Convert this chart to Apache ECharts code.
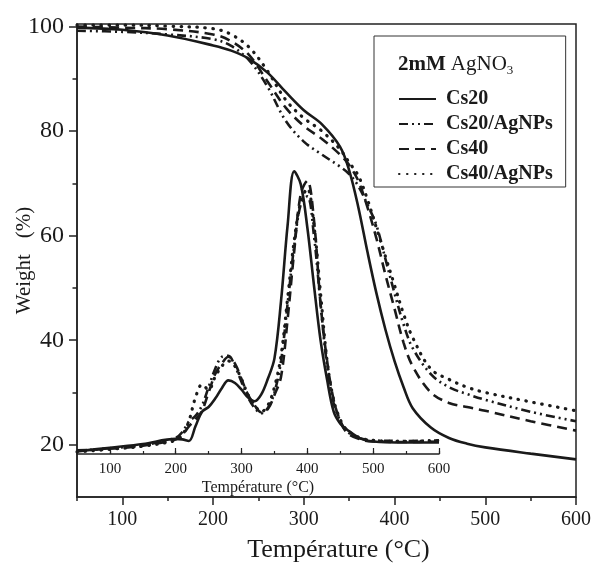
<!DOCTYPE html>
<html>
<head>
<meta charset="utf-8">
<script src="https://cdn.jsdelivr.net/npm/echarts@6/dist/echarts.min.js"></script>
<style>
html,body{margin:0;padding:0;background:#fff;}
#main{width:592px;height:568px;}
</style>
</head>
<body>
<div id="main"></div>
<script>
// TGA curves (main plot) - temperature in °C, weight in %
var tgaTemps = [50,100,150,200,220,240,260,280,300,320,340,350,360,370,380,390,400,410,420,440,460,480,500,550,600];
var tgaCs20      = [99.8,99.4,98.3,96.4,95.4,93.8,91.2,87.5,84,81.3,77,72.5,65.5,57,49,42,36,31,27,23.3,21.3,20.2,19.5,18.3,17.2];
var tgaCs20AgNPs = [99.2,99.0,98.5,97.6,96.3,93.5,88.5,82,78,75.5,73.2,71.8,69.5,66,62,55.5,49,43,38.5,33.5,31,29.7,28.6,26.3,24.5];
var tgaCs40      = [100,99.8,99.5,98.5,97.2,94.5,89.5,84.5,81,78.5,75.5,73.5,70.5,65.5,59.5,52.5,46,39.5,35,30,28,27.2,26.5,24.5,22.7];
var tgaCs40AgNPs = [100.3,100.3,100.1,99.6,98.5,96,91.5,86,82.5,80,76.5,74,71.5,67,61.5,56,50.5,45,40.5,34.5,32.5,31,30,28.2,26.5];

// DTG curves (inset) - drawn in the same units as the main weight axis
var dtgTemps = [50,100,150,200,210,220,230,240,250,260,270,280,290,300,310,320,330,340,350,360,370,380,390,400,410,420,430,440,450,460,480,500,550,600];
var dtgCs20      = [18.7,19.4,20.1,21.1,21.0,20.7,23.5,26.3,27.2,28.8,30.8,32.3,31.8,30.5,29,28.3,29.6,32.6,36.5,47.5,62,72.3,69.8,61.5,50.5,40,32.4,26.3,24,22.9,21.2,20.6,20.4,20.4];
var dtgCs20AgNPs = [18.8,19.3,19.9,21.3,22.4,24.4,25.5,27.5,31,34.5,36.8,37,35,32,29,27,26,27,30,36,47,58,66,67.5,60,47,35,28,24.5,22.5,21.2,20.8,20.7,20.8];
var dtgCs40      = [18.9,19.2,19.8,21,21.8,23.5,24.8,26.5,30,33.5,35.5,36.8,35.5,32.5,29.5,27.5,26.2,26.8,29.5,33,44,57,68,70.5,63,47,36,28.5,24.5,22.3,21,20.6,20.5,20.6];
var dtgCs40AgNPs = [18.6,19.1,19.7,20.8,21.8,24.5,29,31.5,30.5,33,35,36,35,32.5,29.5,27.5,26.3,27.5,31,37,48,59,66.5,69,62,49,36,28.5,24.8,22.8,21.3,20.8,20.6,20.8];

var names = ['Cs20','Cs20/AgNPs','Cs40','Cs40/AgNPs'];
var mainMajorX = [100,200,300,400,500,600];
var mainMajorY = [20,40,60,80,100];
var mainMinorY = [30,50,70,90];

var ink = '#1a1a1a';
var serif = 'Liberation Serif';
// line patterns: solid, dash-dot-dot, dash, dot
var styles = [
    {type:'solid', width:2.6, cap:'butt'},
    {type:[9,4,2,4,2,4], width:2.6, cap:'butt'},
    {type:[10,6], width:2.6, cap:'butt'},
    {type:[0.5,7.5], width:3.2, cap:'round'}
];

function pairs(xs, ys){
    var out = [];
    for(var i=0;i<xs.length;i++){ out.push([xs[i], ys[i]]); }
    return out;
}

var tgaSets = [tgaCs20,tgaCs20AgNPs,tgaCs40,tgaCs40AgNPs];
var dtgSets = [dtgCs20,dtgCs20AgNPs,dtgCs40,dtgCs40AgNPs];
var series = [];
tgaSets.forEach(function(d,i){
    series.push({
        name:names[i], type:'line', xAxisIndex:0, yAxisIndex:0,
        symbol:'none', smooth:0.35, data:pairs(tgaTemps,d),
        lineStyle:{color:ink, width:styles[i].width, type:styles[i].type, cap:styles[i].cap},
        itemStyle:{color:ink}
    });
});
dtgSets.forEach(function(d,i){
    series.push({
        name:names[i], type:'line', xAxisIndex:2, yAxisIndex:2,
        symbol:'none', smooth:0.35, data:pairs(dtgTemps,d),
        lineStyle:{color:ink, width:styles[i].width, type:styles[i].type, cap:styles[i].cap},
        itemStyle:{color:ink}
    });
});

var chart = echarts.init(document.getElementById('main'));
var option = {
    animation:false,
    backgroundColor:'#fff',
    title:{
        text:'{b|2mM} {r|AgNO}{s|3}',
        left:393, top:47,
        textStyle:{
            rich:{
                b:{fontFamily:serif, fontWeight:'bold', fontSize:21, color:ink},
                r:{fontFamily:serif, fontWeight:'normal', fontSize:21, color:ink},
                s:{fontFamily:serif, fontWeight:'normal', fontSize:13, color:ink, padding:[12,0,0,0]}
            }
        }
    },
    legend:{
        data:names,
        orient:'vertical',
        left:374, top:36,
        padding:[53,13,3,24],
        borderColor:'#333', borderWidth:1,
        itemWidth:37, itemHeight:16, itemGap:5,
        selectedMode:false,
        itemStyle:{color:'rgba(0,0,0,0)', borderWidth:0, opacity:0},
        textStyle:{fontFamily:serif, fontWeight:'bold', fontSize:20, color:ink, lineHeight:16, padding:[0,0,0,5]}
    },
    grid:[
        {left:77, right:16, top:24, bottom:71, outerBoundsMode:'none', show:true, borderColor:'#222', borderWidth:1.5},
        {left:77, width:362, top:24, bottom:114, outerBoundsMode:'none'}
    ],
    xAxis:[
        {
            gridIndex:0, type:'value', min:50, max:600,
            name:'Température (°C)', nameLocation:'middle', nameGap:40, nameMoveOverlap:false,
            nameTextStyle:{fontFamily:serif, fontSize:26, color:ink, padding:[0,0,0,24]},
            axisLine:{lineStyle:{color:'#222', width:1.5}},
            axisTick:{length:8, customValues:mainMajorX, lineStyle:{width:1.5, color:'#222'}},
            axisLabel:{customValues:mainMajorX, fontFamily:serif, fontSize:20, color:ink, margin:13},
            splitLine:{show:false}
        },
        {
            gridIndex:0, type:'value', min:50, max:600, interval:50, position:'bottom',
            axisLine:{show:false},
            axisTick:{length:4, lineStyle:{width:1.5, color:'#222'}},
            axisLabel:{show:false}, splitLine:{show:false}
        },
        {
            gridIndex:1, type:'value', min:50, max:600,
            name:'Température (°C)', nameLocation:'middle', nameGap:26, nameMoveOverlap:false,
            nameTextStyle:{fontFamily:serif, fontSize:16, color:ink},
            axisLine:{lineStyle:{color:'#222', width:1.5}},
            axisTick:{inside:true, length:6, customValues:mainMajorX, lineStyle:{width:1.2, color:'#222'}},
            axisLabel:{customValues:mainMajorX, fontFamily:serif, fontSize:15, color:ink, margin:8},
            splitLine:{show:false}
        },
        {
            gridIndex:1, type:'value', min:50, max:600, interval:50, position:'bottom',
            axisLine:{show:false},
            axisTick:{inside:true, length:3, lineStyle:{width:1.2, color:'#222'}},
            axisLabel:{show:false}, splitLine:{show:false}
        }
    ],
    yAxis:[
        {
            gridIndex:0, type:'value', min:10, max:100.5,
            name:'Weight   (%)', nameLocation:'middle', nameGap:53, nameRotate:90, nameMoveOverlap:false,
            nameTextStyle:{fontFamily:serif, fontSize:21, color:ink, verticalAlign:'middle'},
            axisLine:{lineStyle:{color:'#222', width:1.5}},
            axisTick:{length:8, customValues:mainMajorY, lineStyle:{width:1.5, color:'#222'}},
            axisLabel:{customValues:mainMajorY, fontFamily:serif, fontSize:24, color:ink, margin:13},
            splitLine:{show:false}
        },
        {
            gridIndex:0, type:'value', min:10, max:100.5, position:'left',
            axisLine:{show:false},
            axisTick:{length:4.5, customValues:mainMinorY, lineStyle:{width:1.5, color:'#222'}},
            axisLabel:{show:false}, splitLine:{show:false}
        },
        {
            gridIndex:1, type:'value', min:18.2, max:100.5, show:false
        }
    ],
    series:series
};
chart.setOption(option);
</script>
</body>
</html>
